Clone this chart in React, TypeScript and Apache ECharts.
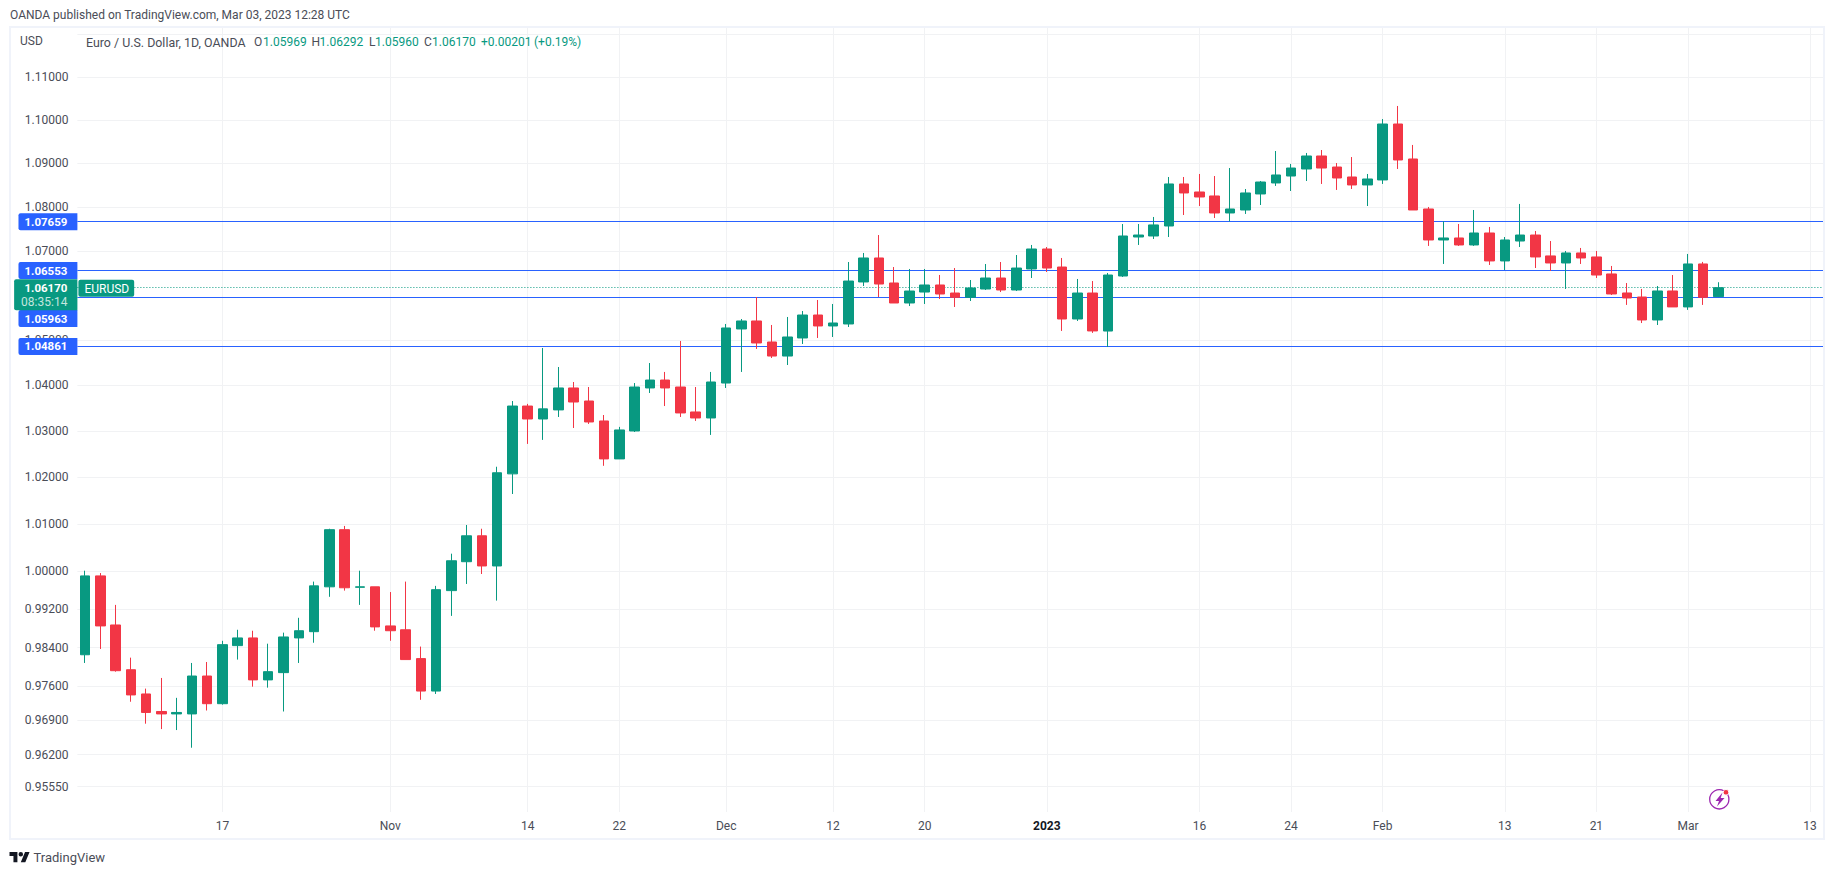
import React, { useEffect, useRef } from "react";
import * as echarts from "echarts";

const categories = [
  "Oct 4","Oct 5","Oct 6","Oct 7","Oct 10","Oct 11","Oct 12","Oct 13","Oct 14","Oct 17","Oct 18","Oct 19","Oct 20","Oct 21","Oct 24","Oct 25","Oct 26","Oct 27","Oct 28","Oct 31",
  "Nov 1","Nov 2","Nov 3","Nov 4","Nov 7","Nov 8","Nov 9","Nov 10","Nov 11","Nov 14","Nov 15","Nov 16","Nov 17","Nov 18","Nov 21","Nov 22","Nov 23","Nov 24","Nov 25","Nov 28","Nov 29","Nov 30",
  "Dec 1","Dec 2","Dec 5","Dec 6","Dec 7","Dec 8","Dec 9","Dec 12","Dec 13","Dec 14","Dec 15","Dec 16","Dec 19","Dec 20","Dec 21","Dec 22","Dec 23","Dec 27","Dec 28","Dec 29","Dec 30",
  "Jan 2","Jan 3","Jan 4","Jan 5","Jan 6","Jan 9","Jan 10","Jan 11","Jan 12","Jan 13","Jan 16","Jan 17","Jan 18","Jan 19","Jan 20","Jan 23","Jan 24","Jan 25","Jan 26","Jan 27","Jan 30","Jan 31",
  "Feb 1","Feb 2","Feb 3","Feb 6","Feb 7","Feb 8","Feb 9","Feb 10","Feb 13","Feb 14","Feb 15","Feb 16","Feb 17","Feb 20","Feb 21","Feb 22","Feb 23","Feb 24","Feb 27","Feb 28",
  "Mar 1","Mar 2","Mar 3","Mar 6","Mar 7","Mar 8","Mar 9","Mar 10","Mar 13","Mar 14",
];

const opens = [
  0.9825,0.9990,0.9887,0.9794,0.9744,0.9708,0.9703,0.9703,0.9781,0.9724,0.9844,0.9860,0.9773,0.9788,0.9860,0.9873,0.9967,1.0088,0.9966,0.9967,
  0.9885,0.9877,0.9817,0.9750,0.9959,1.0020,1.0075,1.0011,1.02076,1.03549,1.03266,1.03464,1.03945,1.03659,1.03223,1.02399,1.03005,1.03945,1.04119,1.03966,1.03419,1.03288,
  1.04053,1.05248,1.05426,1.04959,1.04648,1.05048,1.05559,1.05315,1.05359,1.06298,1.06838,1.06275,1.05827,1.06072,1.06230,1.06050,1.05954,1.06140,1.06387,1.06118,1.06590,
  1.07041,1.06634,1.05470,1.06050,1.05202,1.06432,1.07312,1.07335,1.07562,1.08521,1.08337,1.08246,1.07858,1.07926,1.08292,1.08544,1.08703,1.08865,1.09164,1.08910,1.08681,1.08498,
  1.08613,1.09904,1.09095,1.07949,1.07245,1.07290,1.07132,1.07403,1.06771,1.07221,1.07357,1.06884,1.06725,1.06951,1.06861,1.06478,1.06051,1.05961,1.05448,1.06096,
  1.05739,1.06703,1.05969,
];
const closes = [
  0.9990,0.9885,0.9792,0.9742,0.9706,0.9703,0.9706,0.9781,0.9724,0.9846,0.9860,0.9773,0.9790,0.9862,0.9875,0.9969,1.0088,0.9965,0.9967,0.9883,
  0.9875,0.9815,0.9750,0.9961,1.0022,1.0075,1.0011,1.0210,1.03549,1.03266,1.03487,1.03945,1.03637,1.03201,1.02399,1.03027,1.03966,1.04119,1.03945,1.03398,1.03288,1.04076,
  1.05270,1.05426,1.04937,1.04648,1.05070,1.05559,1.05315,1.05381,1.06319,1.06838,1.06252,1.05827,1.06095,1.06230,1.06028,1.05954,1.06162,1.06387,1.06118,1.06611,1.07041,
  1.06611,1.05470,1.06050,1.05204,1.06454,1.07335,1.07357,1.07586,1.08521,1.08315,1.08223,1.07858,1.07949,1.08315,1.08566,1.08727,1.08887,1.09164,1.08887,1.08658,1.08498,1.08635,
  1.09904,1.09072,1.07926,1.07245,1.07290,1.07132,1.07403,1.06771,1.07245,1.07357,1.06861,1.06725,1.06951,1.06838,1.06454,1.06029,1.05939,1.05448,1.06096,1.05739,
  1.06703,1.05954,1.06170,
];
const lows = [
  0.9808,0.9837,0.9790,0.9728,0.9683,0.9672,0.9670,0.9634,0.9710,0.9722,0.9815,0.9759,0.9757,0.9708,0.9808,0.9850,0.9946,0.9959,0.9929,0.9875,
  0.9854,0.9815,0.9732,0.9744,0.9906,0.9973,0.9994,0.9938,1.01643,1.02724,1.02811,1.03310,1.03070,1.03158,1.02250,1.02399,1.02983,1.03835,1.03549,1.03310,1.03223,1.02919,
  1.03945,1.04297,1.04805,1.04605,1.04450,1.04915,1.05048,1.05070,1.05292,1.06207,1.05961,1.05827,1.05759,1.05805,1.05917,1.05738,1.05871,1.06118,1.06072,1.06095,1.06387,
  1.06522,1.05204,1.05426,1.05160,1.04847,1.06410,1.07132,1.07267,1.07312,1.07812,1.08017,1.07744,1.07668,1.07836,1.08040,1.08476,1.08360,1.08589,1.08521,1.08384,1.08406,1.08017,
  1.08521,1.08865,1.07926,1.07110,1.06703,1.07110,1.07110,1.06680,1.06567,1.07086,1.06612,1.06545,1.06141,1.06703,1.06387,1.06006,1.05784,1.05380,1.05336,1.05739,
  1.05673,1.05784,1.05960,
];
const highs = [
  1.0001,0.9996,0.9929,0.9819,0.9755,0.9777,0.9736,0.9808,0.9810,0.9854,0.9877,0.9875,0.9848,0.9871,0.9902,0.9978,1.0090,1.0096,1.0001,0.9967,
  0.9956,0.9978,0.9842,0.9969,1.0037,1.0098,1.0090,1.0223,1.03659,1.03596,1.04826,1.04406,1.04076,1.03966,1.03353,1.03094,1.04053,1.04494,1.04297,1.04981,1.03966,1.04297,
  1.05359,1.05470,1.05961,1.05337,1.05515,1.05648,1.05894,1.05805,1.06747,1.06951,1.07357,1.06634,1.06590,1.06590,1.06455,1.06611,1.06342,1.06702,1.06747,1.06905,1.07132,
  1.07085,1.06838,1.06365,1.06319,1.06500,1.07607,1.07607,1.07767,1.08681,1.08681,1.08750,1.08703,1.08887,1.08406,1.08589,1.09279,1.08980,1.09234,1.09302,1.09002,1.09140,1.08750,
  1.10019,1.10323,1.09419,1.07995,1.07668,1.07607,1.07926,1.07540,1.07312,1.08064,1.07449,1.07221,1.06996,1.07064,1.06996,1.06658,1.06274,1.06141,1.06207,1.06454,
  1.06929,1.06749,1.06292,
];

const xTickLabels: Record<string, string> = {
  "Oct 17": "17", "Nov 1": "Nov", "Nov 14": "14", "Nov 22": "22", "Dec 1": "Dec", "Dec 12": "12", "Dec 20": "20",
  "Jan 2": "2023", "Jan 16": "16", "Jan 24": "24", "Feb 1": "Feb", "Feb 13": "13", "Feb 21": "21", "Mar 1": "Mar", "Mar 13": "13",
};
const yGridValues = [0.9555, 0.962, 0.969, 0.976, 0.984, 0.992, 1.0, 1.01, 1.02, 1.03, 1.04, 1.05, 1.07, 1.08, 1.09, 1.1, 1.11, 1.12];
const yLabelValues = [0.9555, 0.962, 0.969, 0.976, 0.984, 0.992, 1.0, 1.01, 1.02, 1.03, 1.04, 1.05, 1.07, 1.08, 1.09, 1.1, 1.11];
const priceLevels = [1.07659, 1.06553, 1.05963, 1.04861];
const lastPrice = 1.0617;

const GREEN = "#089981";
const RED = "#F23645";
const BLUE = "#2962FF";
const GRID = "#F1F2F4";
const AXIS_TEXT = "#4a4d57";
const FONT = "Roboto, 'Liberation Sans', sans-serif";

echarts.graphic.registerShape(
  "tvLogo",
  echarts.graphic.extendPath("M14 25H7V14H0V7h14v18zM28 25h-8l7.5-18h8L28 25z M24 11a4 4 0 1 1-8 0a4 4 0 1 1 8 0z", {})
);
echarts.graphic.registerShape(
  "bolt",
  echarts.graphic.extendPath("M7 0L0 8.5h3.5L1.5 14L9 5.5H5.2L7 0z", {})
);

const txt = (x: number, y: number, text: string, fill: string, fontSize = 12, fontWeight = "normal") => ({
  type: "text",
  x,
  y,
  z: 100,
  silent: true,
  style: { text, fill, font: `${fontWeight} ${fontSize}px ${FONT}`, textVerticalAlign: "middle", verticalAlign: "middle" },
});

export default function App() {
  const ref = useRef<HTMLDivElement>(null);
  useEffect(() => {
    document.body.style.margin = "0";
    const chart = echarts.init(ref.current!, null, { renderer: "svg" });
    const isTick = (_i: number, v: string) => v in xTickLabels;

    const levelItem = (v: number, offsetY: number) => ({
      yAxis: v,
      lineStyle: { color: BLUE, width: 1, type: "solid", opacity: 1 },
      label: {
        show: true,
        position: "start",
        distance: 0,
        formatter: v.toFixed(5),
        offset: [0, offsetY],
        backgroundColor: BLUE,
        color: "#fff",
        fontFamily: FONT,
        fontSize: 11.5,
        fontWeight: "bold",
        lineHeight: 12,
        padding: [3, 10, 2, 6],
        borderRadius: [2, 0, 0, 2],
      },
    });

    chart.setOption({
      animation: false,
      backgroundColor: "#fff",
      grid: { left: 77.4, top: 28, width: 1755.6, height: 784 },
      xAxis: {
        type: "category",
        data: categories,
        boundaryGap: true,
        axisLine: { show: false },
        axisTick: { show: false, alignWithLabel: true, interval: isTick },
        splitLine: { show: true, alignWithLabel: true, interval: isTick, lineStyle: { color: GRID, width: 1 } },
        axisLabel: {
          interval: isTick,
          margin: 8,
          fontFamily: FONT,
          fontSize: 12,
          color: AXIS_TEXT,
          hideOverlap: false,
          formatter: (v: string) => (v === "Jan 2" ? "{y|2023}" : xTickLabels[v] ?? ""),
          rich: { y: { fontFamily: FONT, fontSize: 12, fontWeight: "bold", color: "#131722" } },
        },
      },
      yAxis: {
        type: "log",
        logBase: 10,
        min: 0.95041,
        max: 1.12155,
        position: "left",
        axisLine: { show: false },
        axisTick: { show: false, customValues: yGridValues },
        splitLine: { show: true, lineStyle: { color: GRID, width: 1 } },
        axisLabel: {
          customValues: yLabelValues,
          margin: 9,
          fontFamily: FONT,
          fontSize: 12,
          color: AXIS_TEXT,
          formatter: (v: number) => v.toFixed(5),
        },
      },
      series: [
        {
          type: "candlestick",
          barWidth: 10,
          clip: false,
          z: 2,
          itemStyle: {
            color: GREEN,
            color0: RED,
            borderColor: GREEN,
            borderColor0: RED,
            borderWidth: 1,
          },
          data: opens.map((o, i) => [o, closes[i], lows[i], highs[i]]),
          markLine: {
            silent: true,
            z: 1,
            precision: 5,
            symbol: "none",
            animation: false,
            data: [
              levelItem(priceLevels[0], 0),
              levelItem(priceLevels[1], 0),
              levelItem(priceLevels[2], 21.6),
              levelItem(priceLevels[3], 0),
              {
                yAxis: lastPrice,
                lineStyle: { color: "transparent", width: 1, type: "solid", opacity: 1 },
                label: {
                  show: true,
                  position: "start",
                  distance: 0,
                  offset: [0, 7],
                  formatter: "{a|1.06170}\n{b|08:35:14}",
                  backgroundColor: GREEN,
                  padding: [2, 10, 1, 7],
                  borderRadius: [2, 0, 0, 2],
                  rich: {
                    a: { color: "#fff", fontFamily: FONT, fontSize: 11.5, fontWeight: "bold", lineHeight: 14, align: "right" },
                    b: { color: "#c4e6df", fontFamily: FONT, fontSize: 12, lineHeight: 14, align: "right" },
                  },
                },
              },
              {
                yAxis: lastPrice,
                lineStyle: { color: GREEN, width: 1, type: [1, 2], opacity: 1 },
                label: {
                  show: true,
                  position: "insideStartTop",
                  distance: 0,
                  offset: [1, 9],
                  formatter: "EURUSD",
                  backgroundColor: GREEN,
                  color: "#fff",
                  fontFamily: FONT,
                  fontSize: 12,
                  padding: [3, 5, 2, 6],
                  borderRadius: 2,
                },
              },
            ],
          },
        },
      ],
      graphic: [
        { type: "rect", z: 99, silent: true, shape: { x: 1825, y: 0, width: 12, height: 875 }, style: { fill: "#fff" } },
        { type: "rect", z: 100, silent: true, shape: { x: 10, y: 27, width: 1814, height: 812 }, style: { fill: "none", stroke: "#F0F3FA", lineWidth: 2 } },
        txt(10, 15, "OANDA published on TradingView.com, Mar 03, 2023 12:28 UTC", "#4a4d57", 12),
        txt(20, 41, "USD", AXIS_TEXT, 12),
        txt(86, 42, "Euro / U.S. Dollar, 1D, OANDA", "#4a4d57", 12.4),
        txt(254, 42, "O", "#4a4d57", 12),
        txt(263, 42, "1.05969", GREEN, 12),
        txt(311.6, 42, "H", "#4a4d57", 12),
        txt(319.5, 42, "1.06292", GREEN, 12),
        txt(369, 42, "L", "#4a4d57", 12),
        txt(375, 42, "1.05960", GREEN, 12),
        txt(424, 42, "C", "#4a4d57", 12),
        txt(432, 42, "1.06170", GREEN, 12),
        txt(481, 42, "+0.00201", GREEN, 12),
        txt(534, 42, "(+0.19%)", GREEN, 12),
        { type: "tvLogo", x: 9.5, y: 848, scaleX: 0.565, scaleY: 0.565, z: 100, silent: true, style: { fill: "#131722" } },
        txt(33.5, 857, "TradingView", "#4a4d57", 13),
        { type: "circle", z: 100, silent: true, shape: { cx: 1719.3, cy: 799.3, r: 9.6 }, style: { fill: "#fff", stroke: "#9C27B0", lineWidth: 1.3 } },
        { type: "bolt", x: 1715.5, y: 792.5, z: 100, silent: true, style: { fill: "#9C27B0" } },
        { type: "circle", z: 101, silent: true, shape: { cx: 1726, cy: 792.3, r: 2.8 }, style: { fill: RED, stroke: "#fff", lineWidth: 1 } },
      ],
    });
    return () => chart.dispose();
  }, []);
  return (
    <div
      ref={ref}
      style={{ position: "absolute", left: 0, top: 0, width: 1834, height: 875, overflow: "hidden" }}
    />
  );
}
